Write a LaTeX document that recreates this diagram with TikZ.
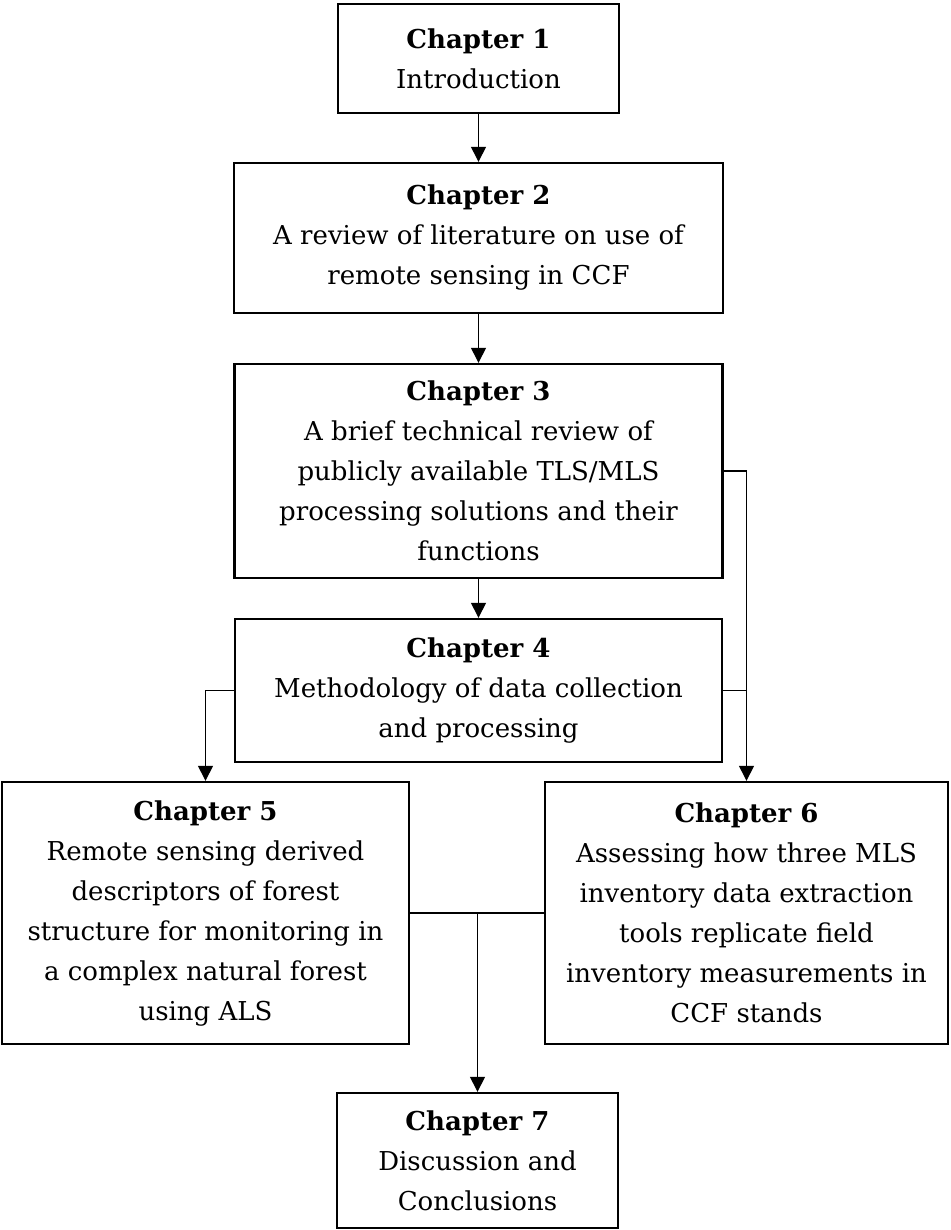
\documentclass[tikz,border=0pt]{standalone}
\usepackage{fontspec}
\setmainfont{DejaVu Serif}
\usetikzlibrary{arrows.meta, positioning}
\definecolor{CLine}{HTML}{000000}

\tikzset{
    chapbox/.style={draw=CLine, line width=1.2pt, align=center, inner sep=0pt,
        font={\fontsize{13}{20}\selectfont}},
    link/.style={CLine, line width=0.7pt},
    linkarrow/.style={link, -{Triangle[length=7.5pt, width=7.5pt]}}
}

\begin{document}
\begin{tikzpicture}[x=0.5pt, y=-0.5pt]
    \useasboundingbox (0,0) rectangle (950,1230);

    % Chapter boxes (top to bottom)
    \node[chapbox, minimum width=140.5pt, minimum height=54.5pt] (ch1) at (478.5,58.5)
        {\textbf{Chapter 1}\\Introduction};
    \node[chapbox, minimum width=244.5pt, minimum height=75pt] (ch2) at (478.5,238)
        {\textbf{Chapter 2}\\A review of literature on use of\\remote sensing in CCF};
    \node[chapbox, minimum width=244pt, minimum height=107pt] (ch3) at (478.5,471)
        {\textbf{Chapter 3}\\A brief technical review of\\publicly available TLS/MLS\\processing solutions and their\\functions};
    \node[chapbox, minimum width=243.5pt, minimum height=71.5pt] (ch4) at (478.5,690.5)
        {\textbf{Chapter 4}\\Methodology of data collection\\and processing};

    % Two parallel chapters
    \node[chapbox, minimum width=203.5pt, minimum height=131pt] (ch5) at (205.5,913)
        {\textbf{Chapter 5}\\Remote sensing derived\\descriptors of forest\\structure for monitoring in\\a complex natural forest\\using ALS};
    \node[chapbox, minimum width=201.5pt, minimum height=131pt] (ch6) at (746.5,913)
        {\textbf{Chapter 6}\\Assessing how three MLS\\inventory data extraction\\tools replicate field\\inventory measurements in\\CCF stands};

    % Closing chapter
    \node[chapbox, minimum width=140.5pt, minimum height=67.5pt] (ch7) at (477.5,1160.5)
        {\textbf{Chapter 7}\\Discussion and\\Conclusions};

    % Connectors
    \draw[linkarrow] (ch1) -- (ch2);
    \draw[linkarrow] (ch2) -- (ch3);
    \draw[linkarrow] (ch3) -- (ch4);
    \draw[linkarrow] (ch3.east) -| (ch6.north);
    \draw[link] (ch4.east) -- (ch4.east -| ch6.north);
    \draw[linkarrow] (ch4.west) -| (ch5.north);
    \draw[link] (ch5.east) -- (ch6.west);
    \coordinate (join) at (ch5.east -| ch7.north);
    \draw[linkarrow] (join) -- (ch7.north);
\end{tikzpicture}
\end{document}
